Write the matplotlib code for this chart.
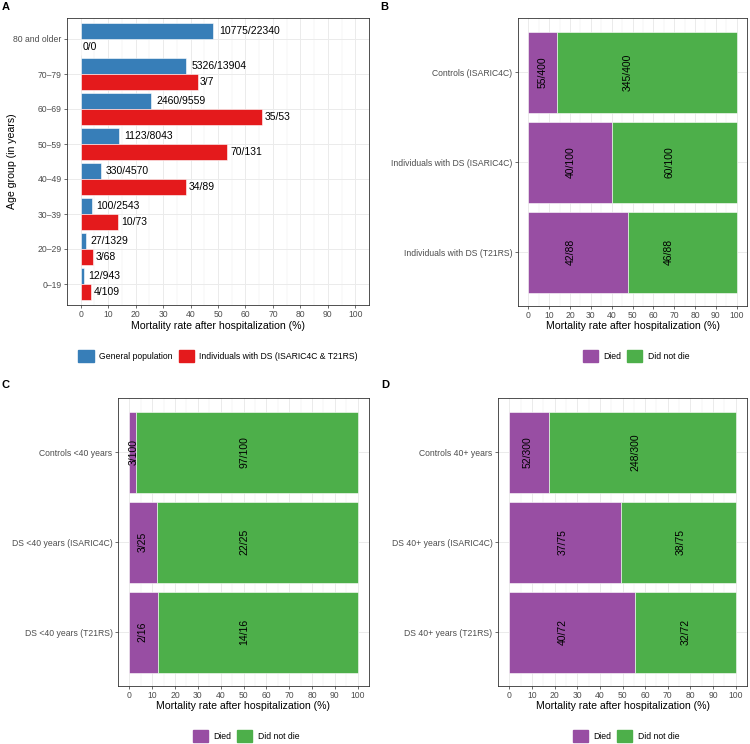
import numpy as np
import matplotlib
matplotlib.use("Agg")
import matplotlib.pyplot as plt
from matplotlib.patches import Patch

plt.rcParams['font.family'] = ['Liberation Sans', 'DejaVu Sans']

# ---- data ----
# panel A: age groups (bottom to top), deaths / totals
age_groups = ["0\u201319", "20\u201329", "30\u201339", "40\u201349",
              "50\u201359", "60\u201369", "70\u201379", "80 and older"]
gen_died = [12, 27, 100, 330, 1123, 2460, 5326, 10775]
gen_total = [943, 1329, 2543, 4570, 8043, 9559, 13904, 22340]
ds_died = [4, 3, 10, 34, 70, 35, 3, 0]
ds_total = [109, 68, 73, 89, 131, 53, 7, 0]

# panel B (top to bottom)
b_groups = ["Controls (ISARIC4C)", "Individuals with DS (ISARIC4C)", "Individuals with DS (T21RS)"]
b_died = [55, 40, 42]
b_total = [400, 100, 88]
b_died_lab_x = [6.8, 20.3, 20.3]
b_alive_lab_x = [47.6, 67.6, 67.6]

# panel C
c_groups = ["Controls <40 years", "DS <40 years (ISARIC4C)", "DS <40 years (T21RS)"]
c_died = [3, 3, 2]
c_total = [100, 25, 16]
c_died_lab_x = [1.9, 5.8, 5.8]
c_alive_lab_x = [50.3, 50.3, 50.3]

# panel D
d_groups = ["Controls 40+ years", "DS 40+ years (ISARIC4C)", "DS 40+ years (T21RS)"]
d_died = [52, 37, 40]
d_total = [300, 75, 72]
d_died_lab_x = [8.0, 23.7, 23.7]
d_alive_lab_x = [55.8, 75.5, 78.0]

BLUE = "#377EB8"
RED = "#E41A1C"
PURPLE = "#984EA3"
GREEN = "#4DAF4A"
GRID = "#EBEBEB"
TICKLAB = "#4D4D4D"
BORDER = "#333333"

LAB_FS = 7.5
TICK_FS = 6.2
TITLE_FS = 7.6


def pct(d, t):
    return [100.0 * a / b if b > 0 else 0.0 for a, b in zip(d, t)]


def style_axes(ax, n):
    ax.set_xlim(-5, 105)
    ax.set_ylim(-0.6, n - 1 + 0.6)
    ax.set_xticks(np.arange(0, 101, 10))
    ax.set_xticks(np.arange(5, 100, 10), minor=True)
    ax.set_yticks(range(n))
    ax.tick_params(axis='both', which='major', length=2.3, width=0.5, color=BORDER,
                   labelsize=TICK_FS, labelcolor=TICKLAB, pad=1.6)
    ax.tick_params(axis='both', which='minor', length=0)
    ax.grid(True, which='major', color=GRID, lw=0.7)
    ax.grid(True, which='minor', axis='x', color=GRID, lw=0.35)
    ax.set_axisbelow(True)
    for s in ax.spines.values():
        s.set_color(BORDER)
        s.set_linewidth(0.6)
    ax.set_xlabel("Mortality rate after hospitalization (%)", fontsize=TITLE_FS)


def stacked(ax, groups, died, total, died_x, alive_x):
    n = len(groups)
    pos = np.arange(n)[::-1]
    dp = pct(died, total)
    ap = [100 - p for p in dp]
    ax.barh(pos, dp, height=0.9, color=PURPLE, edgecolor='white', lw=0.4)
    ax.barh(pos, ap, left=dp, height=0.9, color=GREEN, edgecolor='white', lw=0.4)
    for i in range(n):
        ax.text(died_x[i], pos[i], "%d/%d" % (died[i], total[i]), rotation=90,
                ha='center', va='center', fontsize=LAB_FS)
        ax.text(alive_x[i], pos[i], "%d/%d" % (total[i] - died[i], total[i]), rotation=90,
                ha='center', va='center', fontsize=LAB_FS)
    style_axes(ax, n)
    ax.set_yticks(pos)
    ax.set_yticklabels(groups)


fig = plt.figure(figsize=(7.5, 7.44), dpi=100)

# ---- panel A ----
axA = fig.add_axes([67 / 750, 1 - 305 / 744, 302 / 750, 287 / 744])
pos = np.arange(len(age_groups))
gp = pct(gen_died, gen_total)
dsp = pct(ds_died, ds_total)
axA.barh(pos + 0.225, gp, height=0.45, color=BLUE, edgecolor='white', lw=0.4)
axA.barh(pos - 0.225, dsp, height=0.45, color=RED, edgecolor='white', lw=0.4)
for i in range(len(age_groups)):
    s1 = "%d/%d" % (gen_died[i], gen_total[i])
    s2 = "%d/%d" % (ds_died[i], ds_total[i])
    axA.annotate(s1, (gp[i], pos[i] + 0.225), xytext=(0.42 * len(s1), 0),
                 textcoords='offset points', ha='left', va='center', fontsize=LAB_FS)
    axA.annotate(s2, (dsp[i], pos[i] - 0.225), xytext=(0.42 * len(s2), 0),
                 textcoords='offset points', ha='left', va='center', fontsize=LAB_FS)
style_axes(axA, len(age_groups))
axA.set_yticklabels(age_groups)
axA.set_ylabel("Age group (in years)", fontsize=TITLE_FS)
axA.yaxis.set_label_coords(-0.182, 0.5)
axA.yaxis.label.set_va('center')
axA.xaxis.set_label_coords(0.5, -0.073)
axA.xaxis.label.set_va('center')

# ---- panel B ----
axB = fig.add_axes([518 / 750, 1 - 306 / 744, 229 / 750, 288 / 744])
stacked(axB, b_groups, b_died, b_total, b_died_lab_x, b_alive_lab_x)
axB.xaxis.set_label_coords(0.5, -0.07)
axB.xaxis.label.set_va('center')

# ---- panel C ----
axC = fig.add_axes([118 / 750, 1 - 686 / 744, 251 / 750, 288 / 744])
stacked(axC, c_groups, c_died, c_total, c_died_lab_x, c_alive_lab_x)
axC.xaxis.set_label_coords(0.5, -0.068)
axC.xaxis.label.set_va('center')

# ---- panel D ----
axD = fig.add_axes([498 / 750, 1 - 686 / 744, 249 / 750, 288 / 744])
stacked(axD, d_groups, d_died, d_total, d_died_lab_x, d_alive_lab_x)
axD.xaxis.set_label_coords(0.5, -0.068)
axD.xaxis.label.set_va('center')

# ---- legends ----
leg_kw = dict(loc='center', ncol=2, frameon=False, fontsize=TICK_FS,
              handlelength=1.75, handleheight=1.75, handletextpad=0.6,
              columnspacing=0.75, borderpad=0, borderaxespad=0)
fig.legend(handles=[Patch(color=BLUE, label="General population"),
                    Patch(color=RED, label="Individuals with DS (ISARIC4C & T21RS)")],
           bbox_to_anchor=(218 / 750, 1 - 356 / 744), **leg_kw)
died_handles = [Patch(color=PURPLE, label="Died"), Patch(color=GREEN, label="Did not die")]
fig.legend(handles=died_handles, bbox_to_anchor=(636 / 750, 1 - 356 / 744), **leg_kw)
fig.legend(handles=died_handles, bbox_to_anchor=(246 / 750, 1 - 736 / 744), **leg_kw)
fig.legend(handles=died_handles, bbox_to_anchor=(626 / 750, 1 - 736 / 744), **leg_kw)

# ---- panel letters ----
for lab, x, y in [("A", 6, 7), ("B", 384, 7), ("C", 6, 385), ("D", 385, 385)]:
    fig.text(x / 750, 1 - y / 744, lab, fontsize=8, fontweight='bold',
             ha='center', va='center')

fig.savefig("out.png", dpi=100)
